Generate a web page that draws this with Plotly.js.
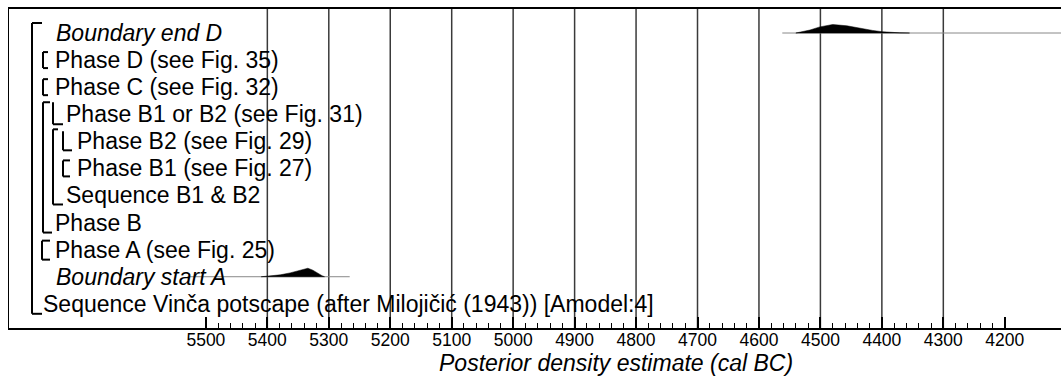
<!DOCTYPE html>
<html>
<head>
<meta charset="utf-8">
<script src="https://cdn.plot.ly/plotly-3.0.1.min.js"></script>
<style>html,body{margin:0;padding:0;overflow:hidden;background:#fff}</style>
</head>
<body>
<div id="chart" style="width:1061px;height:383px"></div>
<script>
// ---- data ----
const rowLabels = [
  "Boundary end D",
  "Phase D (see Fig. 35)",
  "Phase C (see Fig. 32)",
  "Phase B1 or B2 (see Fig. 31)",
  "Phase B2 (see Fig. 29)",
  "Phase B1 (see Fig. 27)",
  "Sequence B1 & B2",
  "Phase B",
  "Phase A (see Fig. 25)",
  "Boundary start A",
  "Sequence Vinča potscape (after Milojičić (1943)) [Amodel:4]"
];
const rowItalic = [true,false,false,false,false,false,false,false,false,true,false];
const rowIndent = [1,1,1,2,3,3,2,1,1,1,0];

const tickYears = [5500,5400,5300,5200,5100,5000,4900,4800,4700,4600,4500,4400,4300,4200];

// Boundary end D posterior (cal BC) and relative density
const endDYears = [4540,4517,4501,4480,4457,4436,4415,4399,4383,4371,4355];
const endDDens  = [0,0.35,0.72,1.0,0.85,0.55,0.3,0.15,0.06,0.02,0];
const endDSpan  = [4562,4100];
// Boundary start A posterior
const startAYears = [5410,5401,5379,5363,5347,5334,5326,5318,5311,5307];
const startADens  = [0,0.07,0.22,0.45,0.75,1.0,0.77,0.4,0.12,0];
const startASpan  = [5530,5266];

// ---- layout helpers ----
const W = 1061, H = 383;
const L = 9, T = 9, B = 328;          // plot area pixels
const xRange = [5820.4, 4108.5];
const rowPx = 27.08, row0Px = 33;
const yTop = -(row0Px - T)/rowPx, yBot = (B - row0Px)/rowPx;
const px2paper = p => (p - L)/(W - L);
const pxY = p => (p - row0Px)/rowPx;
const peakH = 8.5/rowPx;

const traces = [];
function density(years, dens, span, row){
  traces.push({x: span, y:[row,row], mode:'lines', line:{color:'#888', width:1}, hoverinfo:'skip', showlegend:false});
  traces.push({
    x: years.concat(years.slice().reverse()),
    y: dens.map(d => row - d*peakH).concat(years.map(() => row)),
    mode:'lines', fill:'toself', fillcolor:'#000', line:{color:'#000', width:0.5},
    hoverinfo:'skip', showlegend:false
  });
}
density(endDYears, endDDens, endDSpan, 0);
density(startAYears, startADens, startASpan, 9);

const shapes = [];
// grid lines
tickYears.filter(t => t <= 5400 && t >= 4300).forEach(t => {
  shapes.push({type:'line', xref:'x', yref:'paper', x0:t, x1:t, y0:0, y1:1, layer:'below',
    line:{color:'#3a3a3a', width:1.5}});
});
// brackets (pixel based)
function bracket(xPx, y0Px, y1Px, tick0, tick1){
  const lw = 2;
  shapes.push({type:'line', xref:'paper', yref:'y', x0:px2paper(xPx), x1:px2paper(xPx), y0:pxY(y0Px), y1:pxY(y1Px), line:{color:'#000', width:lw}});
  if (tick0) shapes.push({type:'line', xref:'paper', yref:'y', x0:px2paper(xPx), x1:px2paper(xPx+tick0), y0:pxY(y0Px), y1:pxY(y0Px), line:{color:'#000', width:lw}});
  if (tick1) shapes.push({type:'line', xref:'paper', yref:'y', x0:px2paper(xPx), x1:px2paper(xPx+tick1), y0:pxY(y1Px), y1:pxY(y1Px), line:{color:'#000', width:lw}});
}
const rp = i => row0Px + i*rowPx;
bracket(32, 23, rp(10)+10, 10, 10);        // outer sequence
bracket(43, rp(1)-8, rp(1)+8, 5, 5);       // Phase D
bracket(43, rp(2)-8, rp(2)+8, 5, 5);       // Phase C
bracket(43, rp(3)-12, rp(7)+10, 7, 9);     // Phase B
bracket(53, rp(3)-12, rp(3)+10, 0, 10);    // Phase B1 or B2
bracket(53, rp(4)-12, rp(6)+9, 5, 10);     // Sequence B1 & B2
bracket(63, rp(4)-10, rp(4)+9, 0, 9);      // Phase B2
bracket(63, rp(5)-8, rp(5)+8, 7, 7);       // Phase B1
bracket(42, rp(8)-9, rp(8)+10, 8, 8);      // Phase A

const indentPx = [43, 55, 66, 77];
const annotations = rowLabels.map((t, i) => ({
  text: rowItalic[i] ? '<i>' + t + '</i>' : t,
  xref:'paper', yref:'y', x: px2paper(indentPx[rowIndent[i]] + (rowItalic[i] ? 1 : 0) - 2), y: i,
  xanchor:'left', yanchor:'middle', showarrow:false,
  font:{family:'Liberation Sans, Arial, sans-serif', size:23, color:'#000'}
}));
annotations.push({
  text:'<i>Posterior density estimate (cal BC)</i>', xref:'paper', yref:'paper',
  x: px2paper(616), y: -(363 - B)/(B - T), xanchor:'center', yanchor:'middle', showarrow:false,
  font:{family:'Liberation Sans, Arial, sans-serif', size:23, color:'#000'}
});

const minorVals = [];
for (let y = 5500; y >= 4200; y -= 20) if (y % 100 !== 0) minorVals.push(y);

const layout = {
  width: W, height: H,
  margin:{l:L, r:0, t:T, b:H-B},
  paper_bgcolor:'#fff', plot_bgcolor:'#fff',
  showlegend:false,
  xaxis:{
    range:xRange, showgrid:false, zeroline:false,
    showline:true, linecolor:'#000', linewidth:2, mirror:true,
    tickmode:'array', tickvals:tickYears, ticktext:tickYears.map(String),
    ticks:'inside', ticklen:11, tickwidth:2, tickcolor:'#000',
    ticklabelstandoff:-5,
    tickfont:{family:'Liberation Sans, Arial, sans-serif', size:17.5, color:'#000'},
    minor:{tickmode:'array', tickvals:minorVals, ticks:'inside', ticklen:5, tickwidth:1, tickcolor:'#000', showgrid:false}
  },
  yaxis:{
    range:[yBot, yTop], showgrid:false, zeroline:false, showticklabels:false,
    showline:true, linecolor:'#000', linewidth:1.5, ticks:''
  },
  shapes, annotations
};
Plotly.newPlot('chart', traces, layout, {displayModeBar:false, staticPlot:true});
</script>
</body>
</html>
